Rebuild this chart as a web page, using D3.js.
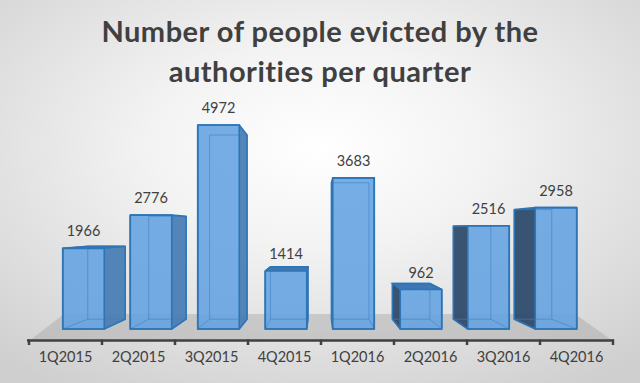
<!DOCTYPE html>
<html><head><meta charset="utf-8">
<script src="https://cdn.jsdelivr.net/npm/d3@7"></script>
<style>html,body{margin:0;padding:0;background:#fff;}svg{display:block;}</style>
</head><body>
<svg id="chart" width="640" height="383"></svg>
<script>
const categories = ["1Q2015","2Q2015","3Q2015","4Q2015","1Q2016","2Q2016","3Q2016","4Q2016"];
const values = [1966, 2776, 4972, 1414, 3683, 962, 2516, 2958];
const titleLines = ["Number of people evicted by the", "authorities per quarter"];

const W = 640, H = 383;
const svg = d3.select("#chart");
const font = "Lato, 'Open Sans', sans-serif";

// background
const defs = svg.append("defs");
const rg = defs.append("radialGradient").attr("id","bg")
  .attr("cx","50%").attr("cy","38%").attr("r","75%");
rg.append("stop").attr("offset","0%").attr("stop-color","#ffffff");
rg.append("stop").attr("offset","35%").attr("stop-color","#f3f3f3");
rg.append("stop").attr("offset","100%").attr("stop-color","#cfcfcf");
svg.append("rect").attr("width",W).attr("height",H).attr("fill","url(#bg)");

// scales
const xAxisScale = d3.scaleBand().domain(categories).range([29, 613]);
const xBar = d3.scaleBand().domain(categories).range([49.75, 589.75]).paddingInner(0.385).paddingOuter(0.1925);
const y = d3.scaleLinear().domain([0, 5000]).range([329, 329 - 0.04103*5000]);

// perspective
const VX = 319.5, VY = 228, S = 0.9027;
const back = ([x, yy]) => [VX + S*(x - VX), VY + S*(yy - VY)];
const poly = pts => "M" + pts.map(p => p.join(",")).join("L") + "Z";

// floor
const axisY = 341;
const x0 = xAxisScale.range()[0], x1 = xAxisScale.range()[1];
svg.append("path")
  .attr("d", poly([[x0, axisY], [x1, axisY], [575, 314], [64, 314]]))
  .attr("fill", "#a6a6a6").attr("fill-opacity", 0.45);

// bars
const g = svg.append("g");
categories.forEach((c, i) => {
  const v = values[i];
  const L = xBar(c), R = L + xBar.bandwidth();
  const T = y(v), B = y(0);
  const fTL=[L,T], fTR=[R,T], fBR=[R,B], fBL=[L,B];
  const bTL=back(fTL), bTR=back(fTR), bBR=back(fBR), bBL=back(fBL);
  const bar = g.append("g");
  if (R < VX) {
    bar.append("path").attr("d", poly([fTR, bTR, bBR, fBR])).attr("fill", "#4a7eb4").attr("fill-opacity", 0.95);
  }
  if (L > VX) {
    bar.append("path").attr("d", poly([fTL, bTL, bBL, fBL])).attr("fill", "#2f4c6b").attr("fill-opacity", 0.95);
  }
  if (T > VY) {
    bar.append("path").attr("d", poly([fTL, fTR, bTR, bTL])).attr("fill", "#3f77b5");
  }
  bar.append("path").attr("d", poly([fTL, fTR, fBR, fBL])).attr("fill", "#62a2e0").attr("fill-opacity", 0.88);
  bar.append("path").attr("d", poly([bTL, bTR, bBR, bBL]))
    .attr("fill", "none").attr("stroke", "#3d84c6").attr("stroke-opacity", 0.6).attr("stroke-width", 1);
  bar.append("path").attr("d", "M" + fBL.join(",") + "L" + bBL.join(",") + "M" + fBR.join(",") + "L" + bBR.join(","))
    .attr("fill", "none").attr("stroke", "#3d84c6").attr("stroke-opacity", 0.6).attr("stroke-width", 1);
  let outline;
  if (R < VX) outline = [fTL, fBL, fBR, bBR, bTR, (T > VY ? bTL : fTR), fTL];
  else if (L > VX) outline = [fTR, fBR, fBL, bBL, bTL, (T > VY ? bTR : fTL), fTR];
  else outline = [fTL, fTR, fBR, fBL, fTL];
  bar.append("path").attr("d", poly([fTL, fTR, fBR, fBL]))
    .attr("fill", "none").attr("stroke", "#2e75b6").attr("stroke-width", 1.6);
  bar.append("path").attr("d", "M" + outline.map(p=>p.join(",")).join("L"))
    .attr("fill", "none").attr("stroke", "#2e75b6").attr("stroke-width", 1.6).attr("stroke-linejoin","round");
  if (T > VY) {
    bar.append("path").attr("d", "M" + fTL.join(",") + "L" + bTL.join(",") + "L" + bTR.join(",") + "L" + fTR.join(","))
      .attr("fill", "none").attr("stroke", "#2e75b6").attr("stroke-width", 1.4);
  }
  svg.append("text").attr("x", (L + R)/2).attr("y", T - 12)
    .attr("text-anchor", "middle").attr("font-family", font).attr("font-size", 14.5)
    .attr("fill", "#404040").text(v);
});

// category axis
const axis = d3.axisBottom(xAxisScale).tickSize(0).tickPadding(11);
const ag = svg.append("g").attr("transform", `translate(0,${axisY})`).call(axis);
ag.select(".domain").remove();
ag.selectAll("text").attr("font-family", font).attr("font-size", 14.5).attr("fill", "#404040");
svg.append("line").attr("x1", x0 - 2).attr("x2", x1 + 1).attr("y1", axisY - 0.5).attr("y2", axisY - 0.5)
  .attr("stroke", "#404040").attr("stroke-width", 2.5);
const tickXs = categories.map(c => xAxisScale(c)).concat([x1]);
svg.selectAll(".bt").data(tickXs).enter().append("line")
  .attr("x1", d => d).attr("x2", d => d).attr("y1", axisY - 1.5).attr("y2", axisY + 4)
  .attr("stroke", "#404040").attr("stroke-width", 2.5);

// title
svg.append("text").attr("text-anchor", "middle").attr("font-family", font)
  .attr("font-weight", "bold").attr("font-size", 29).attr("letter-spacing", 0.5).attr("fill", "#404040")
  .selectAll("tspan").data(titleLines).enter().append("tspan")
  .attr("x", 320).attr("y", (d, i) => 42 + i*40).text(d => d);
</script>
</body></html>
